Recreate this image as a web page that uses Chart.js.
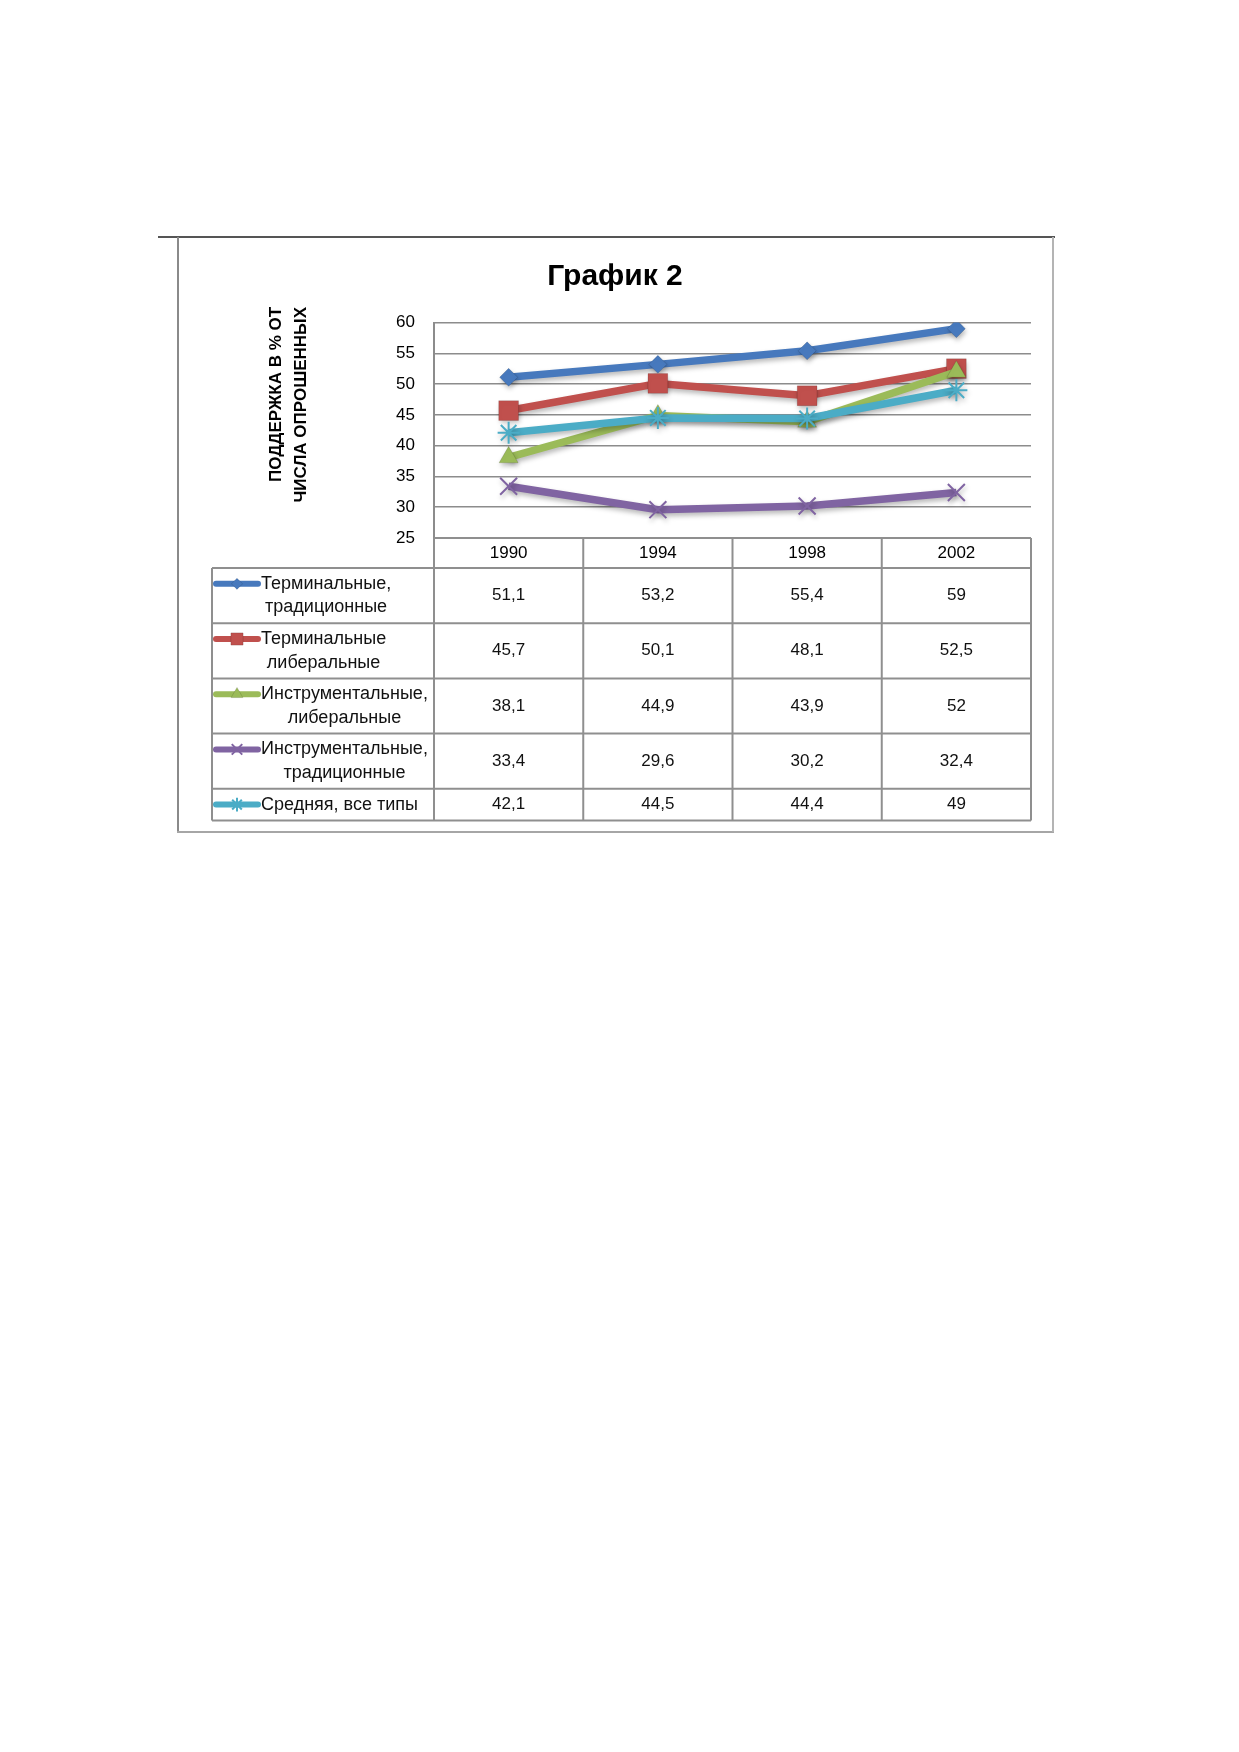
<!DOCTYPE html>
<html lang="ru">
<head>
<meta charset="utf-8">
<title>График 2</title>
<script src="https://cdn.jsdelivr.net/npm/chart.js@4.4.1/dist/chart.umd.min.js"></script>
<style>
  html, body { margin: 0; padding: 0; background: #fff; }
  body { width: 1239px; height: 1752px; position: relative; overflow: hidden; }
  #chart { position: absolute; left: 0; top: 0; }
  .rule { position: absolute; }
</style>
</head>
<body>
<!-- frame around the chart -->
<div class="rule" style="left:158px; top:236px; width:897px; height:2px; background:#555;"></div>
<div class="rule" style="left:177px; top:237px; width:2px; height:595px; background:#8a8a8a;"></div>
<div class="rule" style="left:177px; top:831px; width:877px; height:2px; background:#a6a6a6;"></div>
<div class="rule" style="left:1052px; top:237px; width:2px; height:595px; background:#b4b4b4;"></div>

<canvas id="chart" width="1239" height="880"></canvas>

<script>
// data
const years = ['1990', '1994', '1998', '2002'];

const termTraditional = [51.1, 53.2, 55.4, 59];
const termLiberal = [45.7, 50.1, 48.1, 52.5];
const instrLiberal = [38.1, 44.9, 43.9, 52];
const instrTraditional = [33.4, 29.6, 30.2, 32.4];
const averageAll = [42.1, 44.5, 44.4, 49];

const seriesLabels = [
  ['Терминальные,', 'традиционные'],
  ['Терминальные', 'либеральные'],
  ['Инструментальные,', 'либеральные'],
  ['Инструментальные,', 'традиционные'],
  ['Средняя, все типы']
];

const yMin = 25;
const yMax = 60;
const yStep = 5;
const yTitleLines = ['ПОДДЕРЖКА В % ОТ', 'ЧИСЛА ОПРОШЕННЫХ'];
const chartTitle = 'График 2';

const FONT = '"Liberation Sans", Arial, sans-serif';
const TABLE_LINE = '#8f8f8f';

Chart.defaults.font.family = FONT;
Chart.defaults.color = '#000';

// soft shadow under the lines, like the office chart
const lineShadow = {
  id: 'lineShadow',
  beforeDatasetsDraw(chart) {
    const ctx = chart.ctx;
    ctx.save();
    ctx.shadowColor = 'rgba(0, 0, 0, 0.28)';
    ctx.shadowBlur = 5;
    ctx.shadowOffsetX = 1;
    ctx.shadowOffsetY = 3;
  },
  afterDatasetsDraw(chart) {
    chart.ctx.restore();
  }
};

// rotated two-line y axis title
const axisTitle = {
  id: 'axisTitle',
  afterDraw(chart) {
    const { ctx, chartArea } = chart;
    ctx.save();
    ctx.font = 'bold 17px ' + FONT;
    ctx.fillStyle = '#000';
    ctx.textAlign = 'right';
    ctx.textBaseline = 'middle';
    yTitleLines.forEach((line, i) => {
      ctx.save();
      ctx.translate(chartArea.left - 158 + i * 25.7, chartArea.top - 15.6);
      ctx.rotate(-Math.PI / 2);
      ctx.fillText(line, 0, 0);
      ctx.restore();
    });
    ctx.restore();
  }
};

// data table under the plot (legend keys + values)
const dataTable = {
  id: 'dataTable',
  afterDraw(chart) {
    const { ctx, chartArea } = chart;
    const x = chart.scales.x;
    const step = x.getPixelForValue(1) - x.getPixelForValue(0);
    const edges = years.map((y, i) => x.getPixelForValue(i) - step / 2);
    edges.push(x.getPixelForValue(years.length - 1) + step / 2);

    const tableLeft = chartArea.left - 222;
    const tableRight = edges[edges.length - 1];
    const headTop = x.top;
    let rowTop = x.bottom;

    ctx.save();
    ctx.strokeStyle = TABLE_LINE;
    ctx.lineWidth = 2;
    ctx.fillStyle = '#111';
    ctx.textBaseline = 'middle';

    const hLine = (x1, x2, y) => {
      ctx.beginPath(); ctx.moveTo(x1, y); ctx.lineTo(x2, y); ctx.stroke();
    };
    const vLine = (xx, y1, y2) => {
      ctx.beginPath(); ctx.moveTo(xx, y1); ctx.lineTo(xx, y2); ctx.stroke();
    };

    hLine(edges[0], tableRight, headTop);
    hLine(tableLeft, tableRight, rowTop);

    chart.data.datasets.forEach((ds, i) => {
      const lines = seriesLabels[i];
      const h = 8 + 23.6 * lines.length;
      const mid = rowTop + h / 2;
      const firstLineY = mid - (lines.length - 1) * 23.6 / 2;

      // legend key: thick line with the marker
      ctx.save();
      ctx.strokeStyle = ds.borderColor;
      ctx.lineWidth = 6;
      ctx.lineCap = 'round';
      hLine(tableLeft + 4, tableLeft + 46, firstLineY);
      ctx.restore();
      if (Chart.helpers && Chart.helpers.drawPoint) {
        ctx.save();
        ctx.fillStyle = ds.pointBackgroundColor;
        ctx.strokeStyle = ds.pointBorderColor;
        ctx.lineWidth = ds.pointBorderWidth;
        Chart.helpers.drawPoint(ctx, {
          pointStyle: ds.pointStyle,
          radius: ds.pointRadius * 0.62,
          rotation: 0,
          borderWidth: ds.pointBorderWidth
        }, tableLeft + 25, firstLineY);
        ctx.restore();
      }

      // legend text: block starts after the key, lines centred in the block
      ctx.font = '18px ' + FONT;
      const textLeft = tableLeft + 49;
      const blockW = Math.max(...lines.map(l => ctx.measureText(l).width));
      ctx.textAlign = 'center';
      lines.forEach((l, k) => {
        ctx.fillText(l, textLeft + blockW / 2, firstLineY + k * 23.6);
      });

      // values
      ctx.font = '17px ' + FONT;
      ds.data.forEach((v, j) => {
        ctx.fillText(String(v).replace('.', ','), x.getPixelForValue(j), mid);
      });

      rowTop += h;
      hLine(tableLeft, tableRight, rowTop);
    });

    vLine(tableLeft, x.bottom, rowTop);
    edges.forEach(e => vLine(e, headTop, rowTop));
    ctx.restore();
  }
};

function makeSeries(label, data, color, style, radius, order) {
  const stroked = style === 'crossRot' || style === 'star';
  return {
    label: label.join(' '),
    data: data,
    borderColor: color,
    backgroundColor: color,
    borderWidth: 7.5,
    tension: 0,
    pointStyle: style,
    pointRadius: radius,
    pointHoverRadius: radius,
    pointBackgroundColor: color,
    pointBorderColor: stroked ? color : 'rgba(0,0,0,0.12)',
    pointBorderWidth: stroked ? 2 : 1,
    order: order
  };
}

new Chart(document.getElementById('chart'), {
  type: 'line',
  data: {
    labels: years,
    datasets: [
      makeSeries(seriesLabels[0], termTraditional, '#4779bd', 'rectRot', 9, 4),
      makeSeries(seriesLabels[1], termLiberal, '#c0504d', 'rect', 14, 3),
      makeSeries(seriesLabels[2], instrLiberal, '#9bbb59', 'triangle', 11, 2),
      makeSeries(seriesLabels[3], instrTraditional, '#8064a2', 'crossRot', 12, 1),
      makeSeries(seriesLabels[4], averageAll, '#4bacc6', 'star', 11, 0)
    ]
  },
  options: {
    responsive: false,
    animation: false,
    events: [],
    layout: {
      padding: { left: 199, right: 208, top: 240, bottom: 312 }
    },
    plugins: {
      legend: { display: false },
      tooltip: { enabled: false },
      title: {
        display: true,
        text: chartTitle,
        color: '#000',
        font: { size: 30, weight: 'bold' },
        padding: { top: 19, bottom: 27.5 }
      }
    },
    scales: {
      x: {
        offset: true,
        grid: { display: false, drawTicks: false },
        border: { display: false },
        ticks: { color: '#000', font: { size: 17 }, padding: 5, maxRotation: 0 },
        afterFit: (s) => { s.height = 30; }
      },
      y: {
        min: yMin,
        max: yMax,
        grid: { color: '#8c8c8c', lineWidth: 1.5, drawTicks: false },
        border: { display: true, color: '#8c8c8c', width: 2 },
        ticks: { stepSize: yStep, color: '#000', font: { size: 17 }, padding: 19 },
        afterFit: (s) => { s.width = 235; }
      }
    }
  },
  plugins: [lineShadow, axisTitle, dataTable]
});
</script>
</body>
</html>
